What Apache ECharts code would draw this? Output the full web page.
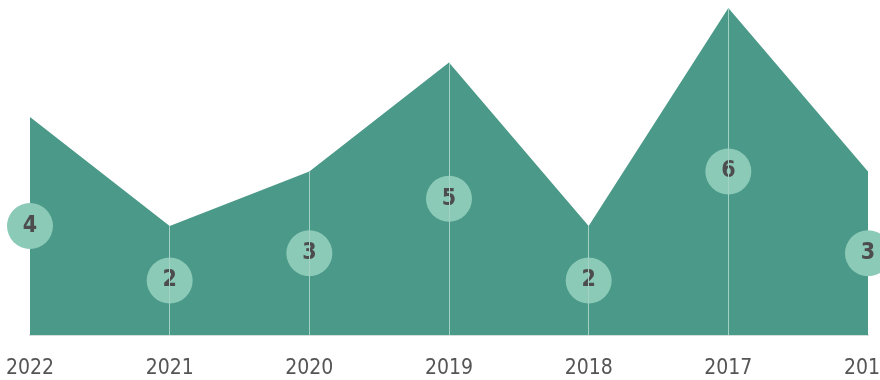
<!DOCTYPE html>
<html>
<head>
<meta charset="utf-8">
<style>
  html, body { margin: 0; padding: 0; background: #ffffff; }
  #chart { width: 880px; height: 380px; }
</style>
<script src="https://cdn.jsdelivr.net/npm/echarts@6/dist/echarts.min.js"></script>
</head>
<body>
<div id="chart"></div>
<script>
// Yearly counts, newest year first
const years = ['2022', '2021', '2020', '2019', '2018', '2017', '2016'];
const counts = [4, 2, 3, 5, 2, 6, 3];

const areaColor = '#4b9988';
const bubbleColor = '#8ccab8';
const textColor = '#4d4d4d';
const narrowFont = '"DejaVu Sans Condensed", "Liberation Sans Narrow", "DejaVu Sans", sans-serif';

// Bubbles sit halfway up each column
const bubblePoints = counts.map((v, i) => [i, v / 2, v]);

// Thin guides from the baseline up to each interior point
const guides = counts
  .map((v, i) => [{ coord: [i, 0] }, { coord: [i, v] }])
  .filter((_, i) => i > 0 && i < counts.length - 1);

const chart = echarts.init(document.getElementById('chart'));
chart.setOption({
  animation: false,
  grid: { left: 30, right: 12, top: 8, bottom: 45, outerBoundsMode: 'none', containLabel: false },
  xAxis: {
    type: 'category',
    data: years,
    boundaryGap: false,
    axisLine: { show: true, lineStyle: { color: '#d3dfda', width: 2 } },
    axisTick: { show: false },
    splitLine: { show: false },
    axisLabel: {
      margin: 23,
      fontFamily: narrowFont,
      fontSize: 21,
      color: '#555555',
      interval: 0,
      hideOverlap: false
    }
  },
  yAxis: {
    type: 'value',
    min: 0,
    max: 6,
    show: false,
    splitLine: { show: false }
  },
  series: [
    {
      type: 'line',
      data: counts,
      symbol: 'none',
      lineStyle: { width: 0 },
      areaStyle: { color: areaColor, opacity: 1 },
      markLine: {
        silent: true,
        symbol: 'none',
        label: { show: false },
        lineStyle: { color: '#a3d2c4', width: 1, type: 'solid' },
        data: guides
      },
      z: 1
    },
    {
      type: 'scatter',
      data: bubblePoints,
      symbol: 'circle',
      symbolSize: 46,
      itemStyle: { color: bubbleColor, opacity: 1 },
      label: {
        show: true,
        position: 'inside',
        formatter: p => String(p.data[2]),
        fontFamily: narrowFont,
        fontWeight: 'bold',
        fontSize: 23,
        color: textColor
      },
      z: 3
    }
  ]
});
</script>
</body>
</html>
